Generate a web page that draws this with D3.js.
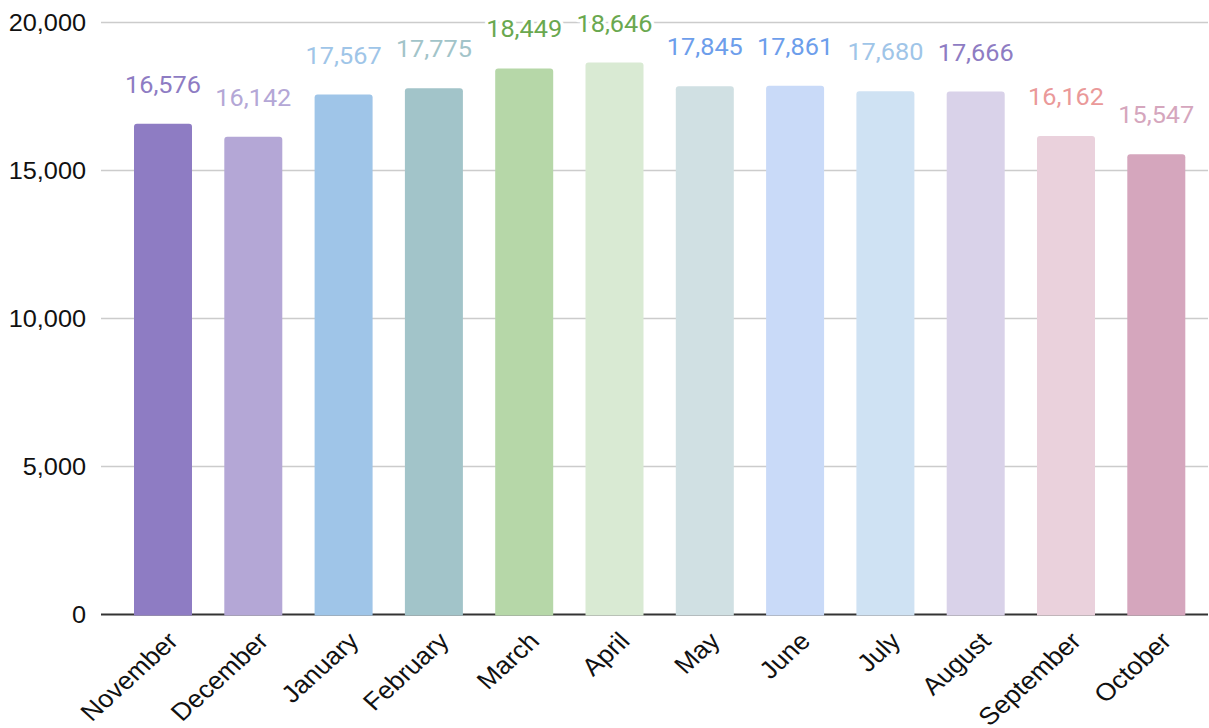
<!DOCTYPE html>
<html>
<head>
<meta charset="utf-8">
<script src="https://cdn.jsdelivr.net/npm/d3@7"></script>
<style>
  html, body { margin: 0; padding: 0; background: #fff; }
  svg { display: block; }
</style>
</head>
<body>
<svg id="chart"></svg>
<script>
// Monthly totals
const months = ["November", "December", "January", "February", "March", "April",
                "May", "June", "July", "August", "September", "October"];
const values = [16576, 16142, 17567, 17775, 18449, 18646,
                17845, 17861, 17680, 17666, 16162, 15547];
const barColors = ["#8e7cc3", "#b4a7d6", "#9fc5e8", "#a2c4c9", "#b6d7a8", "#d9ead3",
                   "#d0e0e3", "#c9daf8", "#cfe2f3", "#d9d2e9", "#ead1dc", "#d5a6bd"];
const labelColors = ["#8e7cc3", "#b4a7d6", "#9fc5e8", "#a2c4c9", "#6aa84f", "#6aa84f",
                     "#6d9eeb", "#6d9eeb", "#9fc5e8", "#8e7cc3", "#ea9999", "#d5a6bd"];
const yTicks = [0, 5000, 10000, 15000, 20000];

// Horizontal stretch of the drawing
const SX = 1.1;
const PW = 1209, PH = 728;
const W = PW / SX, H = PH;

const svg = d3.select("#chart")
  .attr("width", PW).attr("height", PH)
  .attr("viewBox", `0 0 ${W} ${H}`)
  .attr("preserveAspectRatio", "none");

const y = d3.scaleLinear().domain([0, 20000]).range([614.5, 22.5]);

const step = 90.3, bw = 58;
const pi = 1 - bw / step, po = pi / 2;
const r0 = 134 - po * step;
const x = d3.scaleBand()
  .domain(months)
  .range([r0 / SX, (r0 + months.length * step) / SX])
  .paddingInner(pi).paddingOuter(po);

const gridX0 = 101 / SX, gridX1 = 1208 / SX;

// Gridlines
svg.append("g").selectAll("line")
  .data(yTicks.filter(t => t !== 0))
  .join("line")
  .attr("x1", gridX0).attr("x2", gridX1)
  .attr("y1", d => y(d)).attr("y2", d => y(d))
  .attr("stroke", "#cccccc").attr("stroke-width", 1.6);

// Baseline
svg.append("line")
  .attr("x1", gridX0).attr("x2", gridX1)
  .attr("y1", y(0)).attr("y2", y(0))
  .attr("stroke", "#333333").attr("stroke-width", 2);

// Y axis labels
const yAxis = d3.axisLeft(y).tickValues(yTicks).tickFormat(d3.format(",")).tickSize(0).tickPadding(0);
const yg = svg.append("g").attr("transform", `translate(${86 / SX},0)`).call(yAxis);
yg.select(".domain").remove();
yg.selectAll("text")
  .attr("font-family", "'Liberation Sans', Arial, sans-serif")
  .attr("font-size", 23).attr("fill", "#111").attr("dy", "0.35em");

// Bars with slightly rounded top corners
const rad = 3;
function barPath(d, i) {
  const x0 = x(months[i]), x1 = x0 + x.bandwidth();
  const yt = y(d), yb = y(0) + 1;
  const rx = rad / SX;
  return `M${x0},${yb} L${x0},${yt + rad} Q${x0},${yt} ${x0 + rx},${yt}
          L${x1 - rx},${yt} Q${x1},${yt} ${x1},${yt + rad} L${x1},${yb} Z`;
}
svg.append("g").selectAll("path")
  .data(values)
  .join("path")
  .attr("d", (d, i) => barPath(d, i))
  .attr("fill", (d, i) => barColors[i]);

// Value labels with white halo
svg.append("g").selectAll("text")
  .data(values)
  .join("text")
  .attr("x", (d, i) => x(months[i]) + x.bandwidth() / 2)
  .attr("y", d => y(d) - 31)
  .attr("text-anchor", "middle")
  .attr("font-family", "Roboto, sans-serif")
  .attr("font-size", 23)
  .attr("fill", (d, i) => labelColors[i])
  .attr("stroke", "#fff").attr("stroke-width", 6).attr("stroke-linejoin", "round")
  .attr("paint-order", "stroke")
  .text(d => d3.format(",")(d));

// X axis labels, rotated
const xAxis = d3.axisBottom(x).tickSize(0).tickPadding(0);
const xg = svg.append("g").attr("transform", `translate(0,${y(0)})`).call(xAxis);
xg.select(".domain").remove();
xg.selectAll("text")
  .attr("font-family", "'Liberation Sans', Arial, sans-serif")
  .attr("font-size", 24.5).attr("fill", "#111")
  .attr("text-anchor", "end")
  .attr("dy", "0.35em")
  .attr("transform", `translate(${10 / SX},22) rotate(-45)`);
</script>
</body>
</html>
